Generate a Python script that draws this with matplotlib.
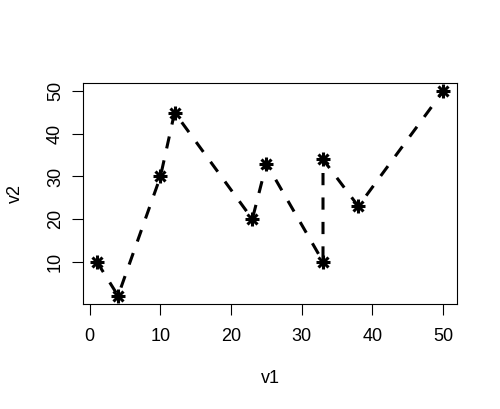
import matplotlib
matplotlib.use("Agg")
import matplotlib.pyplot as plt

v1 = [1, 4, 10, 12, 23, 25, 33, 33, 38, 50]
v2 = [10, 2, 30, 45, 20, 33, 10, 34, 23, 50]
xticks = [0, 10, 20, 30, 40, 50]
yticks = [10, 20, 30, 40, 50]

plt.rcParams['font.family'] = ['Liberation Sans', 'DejaVu Sans']

fig = plt.figure(figsize=(5.0, 4.09), dpi=100)
ax = fig.add_axes([83/500, 1-304/409, (457-83)/500, (304-83)/409])

ax.plot(v1, v2, color='black', linewidth=2.2, linestyle=(0, (4, 4)), zorder=2)
ax.plot(v1, v2, linestyle='none', marker='+', markersize=10, markeredgewidth=2.2, color='black', zorder=3)
ax.plot(v1, v2, linestyle='none', marker='x', markersize=10/1.414, markeredgewidth=2.2, color='black', zorder=3)

rx = max(v1) - min(v1)
ry = max(v2) - min(v2)
ax.set_xlim(min(v1) - 0.04*rx, max(v1) + 0.04*rx)
ax.set_ylim(min(v2) - 0.04*ry, max(v2) + 0.04*ry)

ax.set_xticks(xticks)
ax.set_yticks(yticks)
ax.tick_params(direction='out', length=7.9, width=0.8, labelsize=13)
ax.tick_params(axis='x', pad=9.2)
ax.tick_params(axis='y', pad=5.8)
for lab in ax.get_yticklabels():
    lab.set_rotation(90)
    lab.set_va('center')
for s in ax.spines.values():
    s.set_linewidth(0.8)

ax.set_xlabel('v1', fontsize=13, labelpad=18.5)
ax.set_ylabel('v2', fontsize=13, labelpad=16.5)

fig.savefig('out.png', dpi=100)
